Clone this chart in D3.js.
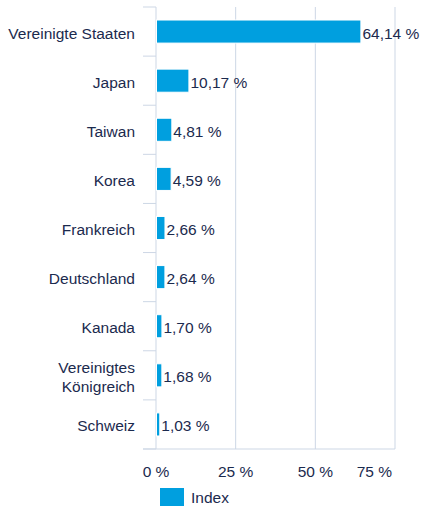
<!DOCTYPE html>
<html>
<head>
<meta charset="utf-8">
<script src="https://cdn.jsdelivr.net/npm/d3@7"></script>
<style>
    body { margin: 0; background: #fff; }
    text { font-family: "Liberation Sans", Arial, sans-serif; fill: #1b2a4e; }
</style>
</head>
<body>
<div id="chart"></div>
<script>
// data
let countries = ["Vereinigte Staaten", "Japan", "Taiwan", "Korea", "Frankreich", "Deutschland", "Kanada", "Vereinigtes Königreich", "Schweiz"];
let weights = [64.14, 10.17, 4.81, 4.59, 2.66, 2.64, 1.70, 1.68, 1.03];
let xTicks = [0, 25, 50, 75];
let seriesName = "Index";

let barColor = "#009fdf";
let gridColor = "#cdd7e5";
let fontSize = "15.5px";

let margin = {top: 7, right: 26, bottom: 58, left: 156};
let width = 421 - margin.left - margin.right;
let height = 507 - margin.top - margin.bottom;

let svg = d3.select("#chart").append("svg")
    .attr("width", 421)
    .attr("height", 507)
    .append("g")
    .attr("transform", "translate(" + margin.left + "," + margin.top + ")");

let x = d3.scaleLinear()
    .domain([0, 75])
    .range([0, width]);

let y = d3.scaleBand()
    .domain(countries)
    .range([0, height])
    .paddingInner(0.53)
    .paddingOuter(0.265);

let fmt = function (v) { return v.toFixed(2).replace(".", ",") + " %"; };

// gridlines
svg.selectAll(".grid")
    .data(xTicks.slice(1))
    .enter().append("line")
    .attr("class", "grid")
    .attr("x1", d => x(d)).attr("x2", d => x(d))
    .attr("y1", 0).attr("y2", height)
    .attr("stroke", gridColor)
    .attr("stroke-width", 1);

// bottom line
svg.append("line")
    .attr("x1", -13).attr("x2", width)
    .attr("y1", height).attr("y2", height)
    .attr("stroke", gridColor);

// category axis line + ticks between categories
svg.append("line")
    .attr("x1", 0).attr("x2", 0)
    .attr("y1", 0).attr("y2", height)
    .attr("stroke", gridColor);

let step = y.step();
svg.selectAll(".ctick")
    .data(d3.range(countries.length + 1))
    .enter().append("line")
    .attr("class", "ctick")
    .attr("x1", -13).attr("x2", 0)
    .attr("y1", i => i * step).attr("y2", i => i * step)
    .attr("stroke", gridColor);

// bars
svg.selectAll(".bar")
    .data(countries)
    .enter().append("rect")
    .attr("class", "bar")
    .attr("x", x(0) + 0.5)
    .attr("y", d => y(d))
    .attr("width", (d, i) => x(weights[i]) - x(0))
    .attr("height", y.bandwidth())
    .attr("fill", barColor)
    .attr("stroke", "#fff")
    .attr("stroke-width", 1);

// value labels
svg.selectAll(".val")
    .data(countries)
    .enter().append("text")
    .attr("class", "val")
    .attr("x", (d, i) => x(weights[i]) + 2)
    .attr("y", d => y(d) + y.bandwidth() / 2)
    .attr("dy", "0.45em")
    .style("font-size", fontSize)
    .text((d, i) => fmt(weights[i]));

// category labels
svg.selectAll(".cat")
    .data(countries)
    .enter().append("text")
    .attr("class", "cat")
    .attr("x", -21)
    .attr("y", d => y(d) + y.bandwidth() / 2)
    .attr("text-anchor", "end")
    .style("font-size", fontSize)
    .each(function (d) {
        let t = d3.select(this);
        let lines = d === "Vereinigtes Königreich" ? ["Vereinigtes", "Königreich"] : [d];
        lines.forEach(function (l, j) {
            t.append("tspan")
                .attr("x", -21)
                .attr("dy", j === 0 ? (0.45 - (lines.length - 1) * 0.6) + "em" : "1.2em")
                .text(l);
        });
    });

// x tick labels
svg.selectAll(".xlab")
    .data(xTicks)
    .enter().append("text")
    .attr("class", "xlab")
    .attr("x", d => d === 75 ? x(d) - 3 : x(d))
    .attr("y", height + 28)
    .attr("text-anchor", d => d === 75 ? "end" : "middle")
    .style("font-size", fontSize)
    .text(d => d + " %");

// legend
let legend = svg.append("g")
    .attr("transform", "translate(" + (160 - margin.left) + "," + (488 - margin.top) + ")");
legend.append("rect")
    .attr("width", 24).attr("height", 18)
    .attr("fill", barColor);
legend.append("text")
    .attr("x", 31).attr("y", 9)
    .attr("dy", "0.4em")
    .style("font-size", fontSize)
    .text(seriesName);
</script>
</body>
</html>
